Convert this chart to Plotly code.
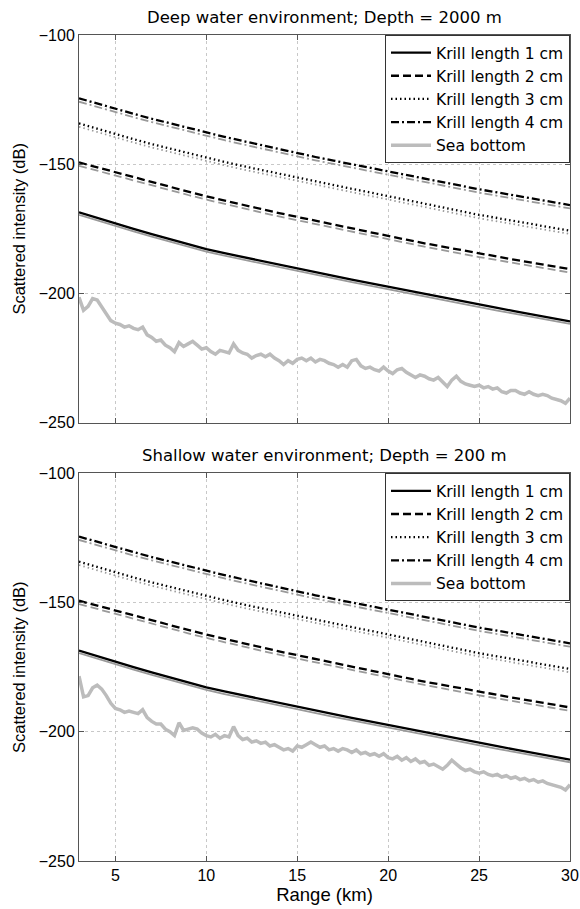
import plotly.graph_objects as go

# ---------------- data ----------------
RANGE_KM = [3, 4, 5, 6, 7, 8, 9, 10, 11, 12, 13, 14, 15, 16, 17, 18, 19, 20,
            21, 22, 23, 24, 25, 26, 27, 28, 29, 30]

KRILL_1CM = [-168.6, -170.8, -172.9, -175.0, -177.0, -179.0, -180.9, -182.8, -184.4, -185.9,
             -187.4, -188.9, -190.3, -191.7, -193.2, -194.6, -196.0, -197.4, -198.8, -200.2,
             -201.6, -202.9, -204.3, -205.6, -206.9, -208.2, -209.5, -210.8]
KRILL_2CM = [-149.3, -151.2, -153.1, -155.1, -157.0, -158.8, -160.6, -162.4, -164.1, -165.7,
             -167.3, -168.9, -170.4, -171.9, -173.4, -174.9, -176.4, -177.8, -179.2, -180.6,
             -181.9, -183.3, -184.6, -185.8, -187.0, -188.2, -189.4, -190.6]
KRILL_3CM = [-134.2, -136.3, -138.4, -140.3, -142.2, -144.0, -145.8, -147.5, -149.1, -150.7,
             -152.2, -153.7, -155.1, -156.6, -158.0, -159.5, -160.9, -162.4, -163.8, -165.3,
             -166.7, -168.2, -169.6, -170.8, -172.1, -173.3, -174.5, -175.7]
KRILL_4CM = [-124.5, -126.6, -128.6, -130.5, -132.4, -134.2, -136.0, -137.7, -139.4, -141.0,
             -142.6, -144.2, -145.8, -147.2, -148.6, -150.0, -151.4, -152.8, -154.2, -155.6,
             -157.0, -158.3, -159.7, -160.9, -162.1, -163.4, -164.6, -165.8]

# gray companion curves (drawn slightly below each black curve)
KRILL_1CM_GRAY = [-169.6, -171.8, -173.9, -176.0, -178.0, -180.0, -181.9, -183.8, -185.4, -186.9,
                  -188.4, -189.9, -191.3, -192.7, -194.2, -195.6, -197.0, -198.4, -199.8, -201.2,
                  -202.6, -203.9, -205.3, -206.6, -207.9, -209.2, -210.5, -211.8]
KRILL_2CM_GRAY = [-150.6, -152.5, -154.4, -156.4, -158.3, -160.1, -161.9, -163.7, -165.4, -167.0,
                  -168.6, -170.2, -171.7, -173.2, -174.7, -176.2, -177.7, -179.1, -180.5, -181.9,
                  -183.2, -184.6, -185.9, -187.1, -188.3, -189.5, -190.7, -191.9]
KRILL_3CM_GRAY = [-135.5, -137.6, -139.7, -141.6, -143.5, -145.3, -147.1, -148.8, -150.4, -152.0,
                  -153.5, -155.0, -156.4, -157.9, -159.3, -160.8, -162.2, -163.7, -165.1, -166.6,
                  -168.0, -169.5, -170.9, -172.1, -173.4, -174.6, -175.8, -177.0]
KRILL_4CM_GRAY = [-125.8, -127.9, -129.9, -131.8, -133.7, -135.5, -137.3, -139.0, -140.7, -142.3,
                  -143.9, -145.5, -147.1, -148.5, -149.9, -151.3, -152.7, -154.1, -155.5, -156.9,
                  -158.3, -159.6, -161.0, -162.2, -163.4, -164.7, -165.9, -167.1]

BOTTOM_RANGE_KM = [3.0, 3.25, 3.5, 3.75, 4.0, 4.25, 4.5, 4.75, 5.0, 5.25, 5.5, 5.75,
                   6.0, 6.25, 6.5, 6.75, 7.0, 7.25, 7.5, 7.75, 8.0, 8.25, 8.5, 8.75,
                   9.0, 9.25, 9.5, 9.75, 10.0, 10.25, 10.5, 10.75, 11.0, 11.25, 11.5, 11.75,
                   12.0, 12.25, 12.5, 12.75, 13.0, 13.25, 13.5, 13.75, 14.0, 14.25, 14.5, 14.75,
                   15.0, 15.25, 15.5, 15.75, 16.0, 16.25, 16.5, 16.75, 17.0, 17.25, 17.5, 17.75,
                   18.0, 18.25, 18.5, 18.75, 19.0, 19.25, 19.5, 19.75, 20.0, 20.25, 20.5, 20.75,
                   21.0, 21.25, 21.5, 21.75, 22.0, 22.25, 22.5, 22.75, 23.0, 23.25, 23.5, 23.75,
                   24.0, 24.25, 24.5, 24.75, 25.0, 25.25, 25.5, 25.75, 26.0, 26.25, 26.5, 26.75,
                   27.0, 27.25, 27.5, 27.75, 28.0, 28.25, 28.5, 28.75, 29.0, 29.25, 29.5, 29.75,
                   30.0]

SEA_BOTTOM_DEEP = [-201.5, -206.5, -205.0, -202.0, -202.5, -205.0, -207.5, -210.5, -211.5, -212.0,
                   -213.0, -212.5, -213.5, -214.0, -213.0, -216.0, -217.0, -218.5, -218.0, -220.0,
                   -221.0, -222.5, -219.0, -220.5, -219.5, -218.5, -220.0, -221.5, -221.0, -222.5,
                   -223.5, -222.0, -222.5, -223.0, -219.5, -222.0, -223.0, -223.5, -225.0, -224.0,
                   -223.5, -224.5, -223.5, -225.0, -226.0, -227.5, -226.0, -227.0, -225.5, -225.0,
                   -226.0, -225.0, -226.5, -225.5, -226.0, -227.0, -227.5, -228.5, -227.5, -228.5,
                   -226.0, -225.5, -228.0, -229.0, -228.5, -229.5, -230.0, -228.5, -230.0, -231.0,
                   -229.5, -229.0, -230.5, -231.5, -232.5, -231.5, -232.0, -233.0, -233.5, -232.5,
                   -234.5, -236.0, -233.5, -232.0, -234.0, -235.0, -235.5, -236.0, -235.5, -236.5,
                   -236.0, -237.0, -236.5, -238.0, -238.5, -237.5, -237.5, -238.5, -239.0, -238.0,
                   -239.0, -239.5, -239.0, -239.5, -240.5, -241.0, -241.5, -242.5, -240.5]

SEA_BOTTOM_SHALLOW = [-178.5, -186.5, -186.0, -183.0, -182.0, -183.5, -186.0, -189.0, -191.0, -191.5,
                      -192.5, -192.0, -192.5, -193.0, -191.5, -194.5, -196.0, -197.0, -197.0, -199.0,
                      -200.0, -201.5, -196.5, -199.5, -199.0, -198.5, -199.0, -200.5, -201.5, -202.0,
                      -201.0, -202.5, -201.5, -202.0, -198.0, -201.5, -203.0, -202.5, -204.0, -203.5,
                      -204.5, -204.0, -205.5, -205.0, -206.0, -207.0, -206.5, -207.5, -205.5, -206.0,
                      -205.0, -204.0, -205.0, -206.0, -205.5, -207.0, -206.5, -207.5, -206.5, -207.0,
                      -208.0, -207.0, -208.5, -208.0, -209.0, -208.5, -209.5, -208.5, -210.0, -210.5,
                      -209.5, -211.0, -210.0, -211.5, -210.5, -212.0, -211.5, -213.0, -212.5, -213.5,
                      -214.5, -213.0, -211.0, -212.5, -214.0, -215.0, -214.5, -215.5, -216.0, -215.5,
                      -216.5, -217.0, -216.5, -217.5, -217.0, -218.0, -217.5, -218.5, -218.0, -219.0,
                      -218.5, -219.5, -219.0, -220.0, -220.5, -221.0, -221.5, -222.5, -220.5]

LEGEND_NAMES = ["Krill length 1 cm", "Krill length 2 cm", "Krill length 3 cm",
                "Krill length 4 cm", "Sea bottom"]
PANEL_TITLES = ["Deep water environment; Depth = 2000 m",
                "Shallow water environment; Depth = 200 m"]
X_TICKS = [5, 10, 15, 20, 25, 30]
Y_TICKS = [-250, -200, -150, -100]

# ---------------- styling ----------------
FONT = "Liberation Sans, Arial, Helvetica, sans-serif"
WIDE_FONT = "DejaVu Sans, Verdana, sans-serif"
BLACK = "#000000"
GRAY_K = "#9a9a9a"
GRAY_B = "#bcbcbc"
DASHES = ["solid", "8px,4px", "1.5px,3px", "8px,3px,2px,3px"]

fig = go.Figure()

black_series = [KRILL_1CM, KRILL_2CM, KRILL_3CM, KRILL_4CM]
gray_series = [KRILL_1CM_GRAY, KRILL_2CM_GRAY, KRILL_3CM_GRAY, KRILL_4CM_GRAY]
bottoms = [SEA_BOTTOM_DEEP, SEA_BOTTOM_SHALLOW]

for p in range(2):
    xa = "x" if p == 0 else "x2"
    ya = "y" if p == 0 else "y2"
    leg = "legend" if p == 0 else "legend2"
    fig.add_trace(go.Scatter(x=BOTTOM_RANGE_KM, y=bottoms[p], mode="lines",
                             line=dict(color=GRAY_B, width=3.5),
                             name=LEGEND_NAMES[4], legend=leg, legendrank=5,
                             xaxis=xa, yaxis=ya))
    for i in range(4):
        fig.add_trace(go.Scatter(x=RANGE_KM, y=gray_series[i], mode="lines",
                                 line=dict(color=GRAY_K, width=1.8, dash=DASHES[i]),
                                 showlegend=False, xaxis=xa, yaxis=ya))
    for i in range(4):
        fig.add_trace(go.Scatter(x=RANGE_KM, y=black_series[i], mode="lines",
                                 line=dict(color=BLACK, width=2.3, dash=DASHES[i]),
                                 name=LEGEND_NAMES[i], legend=leg, legendrank=i + 1,
                                 xaxis=xa, yaxis=ya))

axis_common = dict(showline=True, linecolor="#555555", linewidth=1, mirror="ticks",
                   ticks="inside", ticklen=5, tickcolor="#555555",
                   showgrid=True, gridcolor="#c8c8c8", gridwidth=1, griddash="dot",
                   zeroline=False, automargin=False,
                   tickfont=dict(size=16, color=BLACK, family=FONT))

TOP_DOM = [0.5306, 1.0]
BOT_DOM = [0.0, 0.4694]

legend_common = dict(x=1, xanchor="right", yanchor="top",
                     bgcolor="white", bordercolor="#333333", borderwidth=1,
                     font=dict(size=15.5, family=WIDE_FONT, color=BLACK),
                     tracegroupgap=0, itemwidth=40)

fig.update_layout(
    width=580, height=909,
    margin=dict(l=79, r=10, t=35, b=48, autoexpand=False),
    paper_bgcolor="white", plot_bgcolor="white",
    font=dict(family=FONT, size=16, color=BLACK),
    xaxis=dict(axis_common, domain=[0, 1], anchor="y", range=[3, 30],
               tickvals=X_TICKS, showticklabels=False),
    yaxis=dict(axis_common, domain=TOP_DOM, anchor="x", range=[-250, -100],
               tickvals=Y_TICKS,
               title=dict(text="Scattered intensity (dB)",
                          font=dict(size=16.5, family=FONT), standoff=8)),
    xaxis2=dict(axis_common, domain=[0, 1], anchor="y2", range=[3, 30],
                tickvals=X_TICKS,
                title=dict(text="Range (km)", font=dict(size=18.5, family=FONT), standoff=4)),
    yaxis2=dict(axis_common, domain=BOT_DOM, anchor="x2", range=[-250, -100],
                tickvals=Y_TICKS,
                title=dict(text="Scattered intensity (dB)",
                           font=dict(size=16.5, family=FONT), standoff=8)),
    legend=dict(legend_common, y=TOP_DOM[1]),
    legend2=dict(legend_common, y=BOT_DOM[1]),
    showlegend=True,
    annotations=[
        dict(text=PANEL_TITLES[0], x=0.5, y=1.0206, xref="paper", yref="paper",
             xanchor="center", yanchor="middle", showarrow=False,
             font=dict(size=16.5, family=WIDE_FONT, color=BLACK)),
        dict(text=PANEL_TITLES[1], x=0.5, y=0.4915, xref="paper", yref="paper",
             xanchor="center", yanchor="middle", showarrow=False,
             font=dict(size=16.5, family=WIDE_FONT, color=BLACK)),
    ],
)

fig.write_html("out.html")
